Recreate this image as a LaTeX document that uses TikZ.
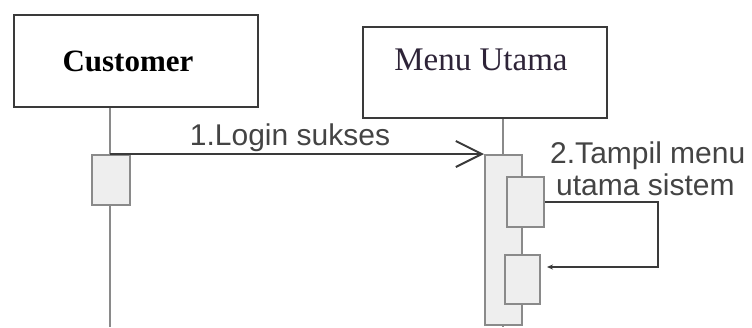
\documentclass[tikz,border=0pt]{standalone}
\usepackage{fontspec}
\setmainfont{Liberation Serif}
\setsansfont{Liberation Sans}
\usetikzlibrary{arrows.meta,calc}
\definecolor{boxline}{HTML}{3A3A3A}
\definecolor{lifegray}{HTML}{8A8A8A}
\definecolor{actfill}{HTML}{EEEEEE}
\definecolor{msgtext}{HTML}{444444}
\definecolor{menutext}{HTML}{2E2438}
\begin{document}
\begin{tikzpicture}[x=1pt,y=-1pt,
  objbox/.style={draw=boxline,line width=2.4pt,fill=white,inner sep=0pt,minimum width=244pt},
  lifeline/.style={draw=lifegray,line width=2pt},
  actbox/.style={draw=lifegray,line width=2pt,fill=actfill,inner sep=0pt},
  msg/.style={draw=boxline,line width=2pt},
  msglabel/.style={font=\sffamily\fontsize{30}{32}\selectfont,text=msgtext,inner sep=0pt}
]
\useasboundingbox (0,0) rectangle (752,327);
% object boxes
\node[objbox,minimum height=92pt] (cust) at (136,61) {};
\node[objbox,minimum height=91pt,line width=2pt] (menu) at (485,72.5) {};
\node[anchor=base,inner sep=0pt,font=\bfseries\fontsize{31}{34}\selectfont] (custtxt) at (128,71) {Customer};
\node[anchor=base,inner sep=0pt,font=\fontsize{33}{36}\selectfont,text=menutext] (menutxt) at (481,70) {Menu Utama};
% lifelines
\coordinate (custend) at (110,327);
\coordinate (menuend) at (503,327);
\draw[lifeline] (cust.south -| custend) -- (custend);
\draw[lifeline] (menu.south -| menuend) -- (menuend);
% activations
\node[actbox,minimum width=38pt,minimum height=50pt] (a1) at (111,180) {};
\node[actbox,minimum width=37pt,minimum height=170pt] (b0) at (503.5,240) {};
\node[actbox,minimum width=37pt,minimum height=50pt] (b1) at (525.5,202) {};
\node[actbox,minimum width=35pt,minimum height=49pt] (b2) at (522.5,279.5) {};
% message 1
\draw[msg,-{Straight Barb[length=26pt,width=26pt,line width=2pt]}] (a1.north -| custend) -- (b0.north west);
\node[msglabel,anchor=base] (m1) at (290,145) {1.Login sukses};
% message 2 (self)
\coordinate (c1) at (658,202);
\coordinate (c2) at (547,267);
\draw[msg,-{Stealth[length=6pt,width=5pt]}] (b1.east) -- (c1) |- (c2);
\node[msglabel,anchor=base west] (m2a) at (550,163) {2.Tampil menu};
\node[msglabel,anchor=base west] (m2b) at (556,195) {utama sistem};
\end{tikzpicture}
\end{document}
